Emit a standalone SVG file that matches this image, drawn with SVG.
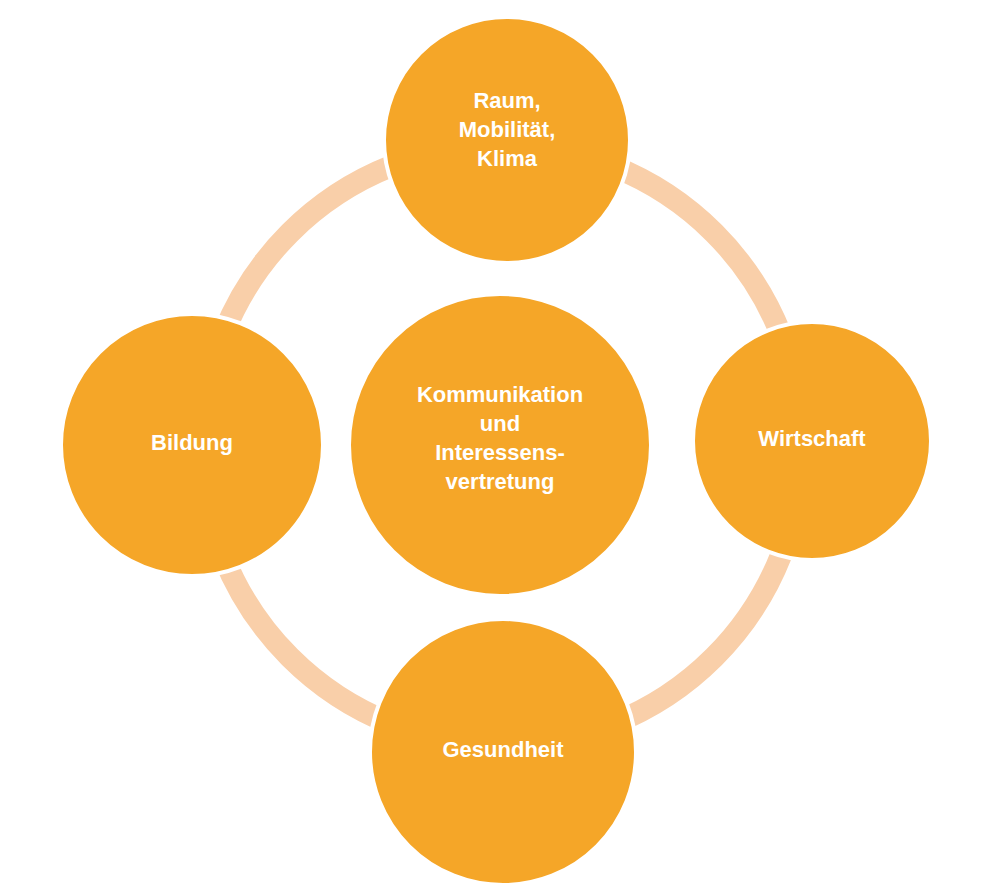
<svg xmlns="http://www.w3.org/2000/svg" width="1000" height="891" viewBox="0 0 1000 891">
<style>
.n{fill:#F5A628;stroke:#fff;stroke-width:4}
.t{fill:#fff;font-family:"Liberation Sans",Arial,sans-serif;font-weight:bold;font-size:22px;text-anchor:middle}
</style>
<rect width="1000" height="891" fill="#fff"/>
<g id="connectors"><circle cx="502" cy="445" r="300" fill="none" stroke="#F9CFA9" stroke-width="22"/></g>
<g id="top"><circle class="n" cx="507" cy="140" r="123"/><text class="t" x="507" y="108">Raum,</text><text class="t" x="507" y="137">Mobilität,</text><text class="t" x="507" y="166">Klima</text></g>
<g id="left"><circle class="n" cx="192" cy="445" r="131"/><text class="t" x="192" y="450">Bildung</text></g>
<g id="right"><circle class="n" cx="812" cy="441" r="119"/><text class="t" x="812" y="446">Wirtschaft</text></g>
<g id="bottom"><circle class="n" cx="503" cy="752" r="133"/><text class="t" x="503" y="757">Gesundheit</text></g>
<g id="center"><circle class="n" cx="500" cy="445" r="151"/><text class="t" x="500" y="402">Kommunikation</text><text class="t" x="500" y="431">und</text><text class="t" x="500" y="460">Interessens-</text><text class="t" x="500" y="489">vertretung</text></g>
</svg>
